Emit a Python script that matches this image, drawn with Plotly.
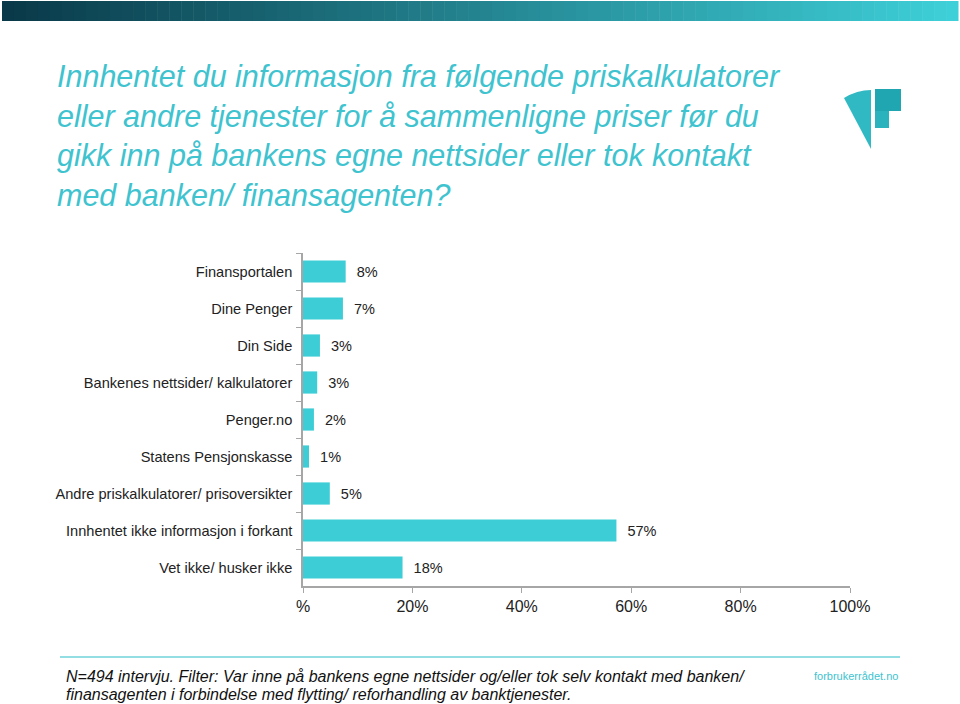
import plotly.graph_objects as go


# --------------------------------------------------
# DATA
# --------------------------------------------------

categories = [
    "Finansportalen",
    "Dine Penger",
    "Din Side",
    "Bankenes nettsider/ kalkulatorer",
    "Penger.no",
    "Statens Pensjonskasse",
    "Andre priskalkulatorer/ prisoversikter",
    "Innhentet ikke informasjon i forkant",
    "Vet ikke/ husker ikke",
]

shares = [7.8, 7.3, 3.1, 2.6, 2.0, 1.1, 4.9, 57.3, 18.2]

share_labels = ["8%", "7%", "3%", "3%", "2%", "1%", "5%", "57%", "18%"]

x_ticks = [0, 20, 40, 60, 80, 100]
x_tick_labels = ["%", "20%", "40%", "60%", "80%", "100%"]

title_text = (
    "Innhentet du informasjon fra følgende priskalkulatorer<br>"
    "eller andre tjenester for å sammenligne priser før du<br>"
    "gikk inn på bankens egne nettsider eller tok kontakt<br>"
    "med banken/ finansagenten?"
)

footer_lines = [
    "N=494 intervju. Filter: Var inne på bankens egne nettsider og/eller tok selv kontakt med banken/",
    "finansagenten i forbindelse med flytting/ reforhandling av banktjenester.",
]

TEAL = "#3dcdd6"
TITLE_TEAL = "#3ec3cf"
FONT = "Liberation Sans, Arial, sans-serif"


# --------------------------------------------------
# BAR CHART
# --------------------------------------------------

fig = go.Figure()

fig.add_trace(
    go.Bar(
        x=shares,
        y=categories,
        orientation="h",
        marker=dict(color=TEAL, line=dict(width=0)),
        width=0.6,
        text=["  " + s for s in share_labels],
        textposition="outside",
        textfont=dict(size=14.5, color="#222222", family=FONT),
        cliponaxis=False,
        hoverinfo="skip",
    )
)

fig.update_layout(
    width=960,
    height=704,
    margin=dict(l=303, r=110, t=253, b=118),
    paper_bgcolor="white",
    plot_bgcolor="white",
    showlegend=False,
    font=dict(family=FONT, color="#222222"),
)

fig.update_xaxes(
    range=[0, 100],
    tickvals=x_ticks,
    ticktext=x_tick_labels,
    showgrid=False,
    zeroline=False,
    showline=True,
    linecolor="#a6a6a6",
    linewidth=1.5,
    ticks="outside",
    ticklen=5,
    tickcolor="#a6a6a6",
    tickfont=dict(size=16, color="#222222"),
)

fig.update_yaxes(
    autorange="reversed",
    showgrid=False,
    zeroline=False,
    showline=True,
    linecolor="#a6a6a6",
    linewidth=1.5,
    ticks="outside",
    tickson="boundaries",
    ticklen=5,
    tickcolor="#a6a6a6",
    ticklabelstandoff=6,
    tickfont=dict(size=14.6, color="#222222"),
)


# --------------------------------------------------
# PAGE DECORATION
# --------------------------------------------------

def px_x(v):
    return (v - 303) / 547


def px_y(v):
    return (586 - v) / 333


# gradient band at the top
steps = 80
c0 = (10, 58, 74)
c1 = (62, 208, 216)
for i in range(steps):
    t = i / (steps - 1)
    col = "rgb({},{},{})".format(
        int(c0[0] + (c1[0] - c0[0]) * t),
        int(c0[1] + (c1[1] - c0[1]) * t),
        int(c0[2] + (c1[2] - c0[2]) * t),
    )
    fig.add_shape(
        type="rect", xref="paper", yref="paper",
        x0=px_x(2 + i * 956 / steps),
        x1=px_x(2 + (i + 1) * 956 / steps + 0.5),
        y0=px_y(21), y1=px_y(1),
        line=dict(width=0), fillcolor=col, layer="above",
    )

# logo
fig.add_shape(
    type="path", xref="paper", yref="paper",
    path="M {} {} Q {} {} {} {} L {} {} Z".format(
        px_x(844), px_y(98),
        px_x(857), px_y(90), px_x(871), px_y(90),
        px_x(871), px_y(149),
    ),
    fillcolor="#30b9c3", line=dict(width=0),
)
fig.add_shape(
    type="rect", xref="paper", yref="paper",
    x0=px_x(875), x1=px_x(901), y0=px_y(111), y1=px_y(89),
    fillcolor="#1fa6b0", line=dict(width=0),
)
fig.add_shape(
    type="rect", xref="paper", yref="paper",
    x0=px_x(875), x1=px_x(889), y0=px_y(128), y1=px_y(111),
    fillcolor="#2ab3bd", line=dict(width=0),
)

# footer line
fig.add_shape(
    type="line", xref="paper", yref="paper",
    x0=px_x(60), x1=px_x(900), y0=px_y(657), y1=px_y(657),
    line=dict(color="#6fd3da", width=1.5),
)

# title
fig.add_annotation(
    xref="paper", yref="paper",
    x=px_x(55), y=px_y(57),
    xanchor="left", yanchor="top",
    align="left",
    showarrow=False,
    text="<i>" + title_text + "</i>",
    font=dict(size=30.5, color=TITLE_TEAL, family=FONT),
)

# footer note
for k, line in enumerate(footer_lines):
    fig.add_annotation(
        xref="paper", yref="paper",
        x=px_x(64), y=px_y(676 + 18 * k),
        xanchor="left", yanchor="middle",
        align="left",
        showarrow=False,
        text="<i>" + line + "</i>",
        font=dict(size=16, color="#111111", family=FONT),
    )

fig.add_annotation(
    xref="paper", yref="paper",
    x=px_x(900), y=px_y(676),
    xanchor="right", yanchor="middle",
    showarrow=False,
    text="forbrukerrådet.no",
    font=dict(size=11, color=TITLE_TEAL, family=FONT),
)

fig.write_html(
    "out.html",
    config={"displayModeBar": False},
    post_script="document.body.style.margin='0';",
)
